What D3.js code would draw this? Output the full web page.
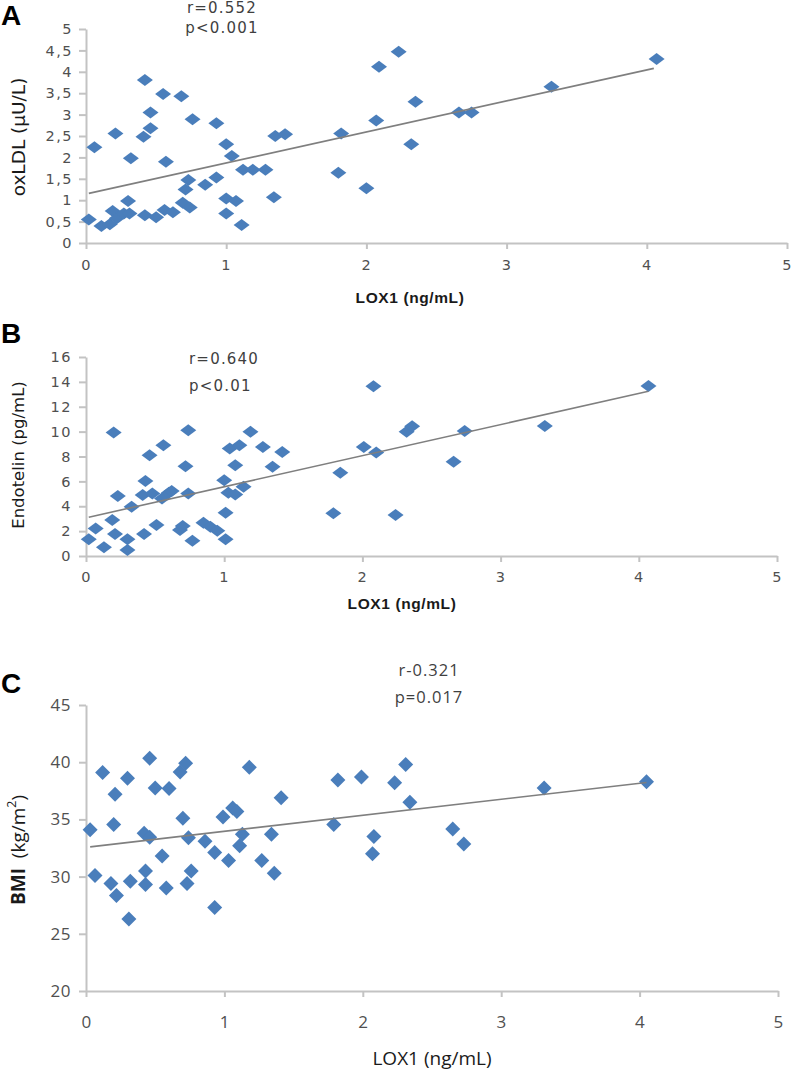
<!DOCTYPE html>
<html>
<head>
<meta charset="utf-8">
<script src="https://cdn.jsdelivr.net/npm/d3@7"></script>
<style>
  html, body { margin: 0; padding: 0; background: #fff; }
  svg { display: block; }
</style>
</head>
<body>
<svg id="chart" width="794" height="1074"></svg>
<script>
// ---------- DATA ----------
const lox1A = [0.02,0.06,0.11,0.17,0.19,0.21,0.22,0.27,0.30,0.32,0.31,0.42,0.41,0.46,0.46,0.42,0.50,0.55,0.57,0.56,0.62,0.68,0.69,0.71,0.73,0.74,0.76,0.85,0.93,0.93,1.00,1.00,1.00,1.04,1.07,1.11,1.12,1.19,1.28,1.35,1.34,1.42,1.82,1.80,2.00,2.07,2.09,2.23,2.35,2.32,2.66,2.75,3.32,4.07];
const oxldl = [0.55,2.24,0.40,0.44,0.75,2.56,0.58,0.69,0.98,1.98,0.69,3.81,2.48,2.68,3.05,0.65,0.60,3.48,1.90,0.77,0.72,3.43,0.94,1.25,1.47,0.83,2.89,1.36,2.80,1.53,0.69,2.31,1.04,2.03,0.98,0.42,1.71,1.71,1.71,2.50,1.07,2.54,2.56,1.64,1.28,2.86,4.12,4.47,3.30,2.31,3.05,3.05,3.65,4.30];

const lox1B = [0.02,0.07,0.13,0.20,0.19,0.23,0.21,0.30,0.30,0.33,0.42,0.46,0.43,0.41,0.48,0.51,0.56,0.55,0.60,0.62,0.68,0.70,0.72,0.74,0.74,0.77,0.85,0.90,0.95,1.00,1.01,1.01,1.04,1.03,1.08,1.08,1.11,1.14,1.19,1.28,1.35,1.42,1.79,1.84,2.01,2.08,2.10,2.24,2.32,2.36,2.66,2.74,3.32,4.07];
const endotelin = [1.34,2.22,0.70,9.93,2.89,4.82,1.77,1.34,0.48,3.96,1.77,8.11,6.04,4.90,5.03,2.49,8.91,4.63,5.08,5.22,2.09,2.41,7.22,10.11,5.03,1.23,2.67,2.35,2.03,6.10,3.48,1.34,8.64,5.08,4.95,7.30,8.91,5.56,9.98,8.77,7.17,8.37,3.43,6.69,8.77,13.64,8.32,3.29,9.98,10.43,7.57,10.06,10.46,13.67];

const lox1C = [0.03,0.065,0.12,0.18,0.21,0.20,0.22,0.30,0.31,0.32,0.42,0.46,0.43,0.43,0.46,0.50,0.55,0.60,0.58,0.70,0.68,0.72,0.74,0.73,0.76,0.86,0.93,0.93,0.99,1.03,1.06,1.09,1.11,1.13,1.18,1.27,1.34,1.36,1.41,1.79,1.82,1.99,2.08,2.07,2.23,2.31,2.34,2.65,2.73,3.31,4.05];
const bmi = [34.1,30.1,39.1,29.4,37.2,34.55,28.35,38.6,26.3,29.6,33.8,33.45,30.5,29.3,40.35,37.75,31.8,37.7,29.0,35.1,39.15,39.9,33.4,29.4,30.5,33.1,32.1,27.3,35.2,31.4,36.0,35.7,32.7,33.7,39.55,31.4,33.7,30.3,36.9,34.55,38.45,38.7,33.5,32.0,38.2,39.8,36.5,34.15,32.85,37.75,38.3];

// trend lines (endpoints)
const trendA = [[0.02, 1.16], [4.05, 4.08]];
const trendB = [[0.02, 3.12], [4.07, 13.24]];
const trendC = [[0.03, 32.6], [4.05, 38.23]];

// ticks
const xTicks = [0, 1, 2, 3, 4, 5];
const xTickLabels = ["0", "1", "2", "3", "4", "5"];
const yTicksA = [0, 0.5, 1, 1.5, 2, 2.5, 3, 3.5, 4, 4.5, 5];
const yTickLabelsA = ["0", "0,5", "1", "1,5", "2", "2,5", "3", "3,5", "4", "4,5", "5"];
const yTicksB = [0, 2, 4, 6, 8, 10, 12, 14, 16];
const yTickLabelsB = ["0", "2", "4", "6", "8", "10", "12", "14", "16"];
const yTicksC = [20, 25, 30, 35, 40, 45];
const yTickLabelsC = ["20", "25", "30", "35", "40", "45"];

// texts
const panelLetters = ["A", "B", "C"];
const statsA = ["r=0.552", "p<0.001"];
const statsB = ["r=0.640", "p<0.01"];
const statsC = ["r-0.321", "p=0.017"];
const xTitle = "LOX1 (ng/mL)";
const yTitleA = "oxLDL (μU/L)";
const yTitleB = "Endotelin (pg/mL)";

// ---------- DRAW ----------
const svg = d3.select("#chart");
const markColor = "#4a7ebb";
const axisColor = "#c3c3c3";
const tickText = "#505050";

const panels = [
  { letter: panelLetters[0], letterY: 25, xs: lox1A, ys: oxldl, trend: trendA,
    x: d3.scaleLinear().domain([0,5]).range([86,787]),
    y: d3.scaleLinear().domain([0,5]).range([243,29]),
    yTicks: yTicksA, yLabels: yTickLabelsA, dw: 16, dh: 12,
    tickFont: "DejaVu Sans", tickSize: 14.5, tickSpacing: 1.5, xLabelDy: 28, yLabelGap: 13,
    stats: statsA, statsX: 222, statsY: [13, 33], statsAnchor: "middle",
    statsFont: "DejaVu Sans", statsSize: 15, statsSpacing: 1.2,
    xTitleY: 303, xTitleX: 410, xTitleFont: "Liberation Sans", xTitleSize: 15.5, xTitleWeight: "bold",
    yTitleX: 18, yTitleY: 137, yTitleSize: 18.5 },
  { letter: panelLetters[1], letterY: 343, xs: lox1B, ys: endotelin, trend: trendB,
    x: d3.scaleLinear().domain([0,5]).range([86,777]),
    y: d3.scaleLinear().domain([0,16]).range([556,357]),
    yTicks: yTicksB, yLabels: yTickLabelsB, dw: 16, dh: 12,
    tickFont: "DejaVu Sans", tickSize: 14.5, tickSpacing: 1.5, xLabelDy: 27, yLabelGap: 14,
    stats: statsB, statsX: 189, statsY: [364, 391], statsAnchor: "start",
    statsFont: "DejaVu Sans", statsSize: 15, statsSpacing: 1.2,
    xTitleY: 609, xTitleX: 402, xTitleFont: "Liberation Sans", xTitleSize: 15.5, xTitleWeight: "bold",
    yTitleX: 18, yTitleY: 455, yTitleSize: 16.5 },
  { letter: panelLetters[2], letterY: 693, xs: lox1C, ys: bmi, trend: trendC,
    x: d3.scaleLinear().domain([0,5]).range([86,778]),
    y: d3.scaleLinear().domain([20,45]).range([991,705]),
    yTicks: yTicksC, yLabels: yTickLabelsC, dw: 15, dh: 15,
    tickFont: "Open Sans", tickSize: 17, tickSpacing: 0.5, xLabelDy: 38, yLabelGap: 15,
    stats: statsC, statsX: 429, statsY: [676, 703], statsAnchor: "middle",
    statsFont: "Open Sans", statsSize: 16.5, statsSpacing: 1,
    xTitleY: 1065, xTitleX: 432, xTitleFont: "Open Sans", xTitleSize: 19, xTitleWeight: "normal",
    yTitleX: 18, yTitleY: 850, yTitleSize: 19 }
];

panels.forEach((p, i) => {
  const g = svg.append("g");
  const x0 = p.x.range()[0];
  const yBase = p.y.range()[0];

  // y axis
  const yAxis = d3.axisLeft(p.y)
    .tickValues(p.yTicks)
    .tickFormat((d, k) => p.yLabels[k])
    .tickSizeInner(7).tickSizeOuter(0).tickPadding(p.yLabelGap - 7);
  const ya = g.append("g").attr("transform", `translate(${x0},0)`).call(yAxis);
  ya.select(".domain").attr("stroke", axisColor).attr("stroke-width", 2);
  ya.selectAll(".tick line").attr("stroke", axisColor).attr("stroke-width", 2);
  ya.selectAll(".tick text")
    .attr("fill", tickText).attr("font-family", p.tickFont)
    .attr("font-size", p.tickSize).attr("letter-spacing", p.tickSpacing);

  // x axis
  const xAxis = d3.axisBottom(p.x)
    .tickValues(xTicks)
    .tickFormat((d, k) => xTickLabels[k])
    .tickSizeInner(6).tickSizeOuter(0).tickPadding(p.xLabelDy - 6 - p.tickSize * 0.75);
  const xa = g.append("g").attr("transform", `translate(0,${yBase})`).call(xAxis);
  xa.select(".domain").attr("stroke", axisColor).attr("stroke-width", 2);
  xa.selectAll(".tick line").attr("stroke", axisColor).attr("stroke-width", 2);
  xa.selectAll(".tick text")
    .attr("fill", tickText).attr("font-family", p.tickFont)
    .attr("font-size", p.tickSize).attr("letter-spacing", p.tickSpacing);

  // points
  const pts = p.xs.map((v, k) => [v, p.ys[k]]);
  const w = p.dw / 2, h = p.dh / 2;
  g.append("g").selectAll("path").data(pts).join("path")
    .attr("d", `M0,${-h}L${w},0L0,${h}L${-w},0Z`)
    .attr("transform", d => `translate(${p.x(d[0])},${p.y(d[1])})`)
    .attr("fill", markColor);

  // trend line
  g.append("path")
    .datum(p.trend)
    .attr("d", d3.line().x(d => p.x(d[0])).y(d => p.y(d[1])))
    .attr("stroke", "#7f7f7f").attr("stroke-width", 1.6).attr("fill", "none");

  // stats text
  p.stats.forEach((t, k) => {
    g.append("text").text(t)
      .attr("x", p.statsX).attr("y", p.statsY[k])
      .attr("text-anchor", p.statsAnchor)
      .attr("font-family", p.statsFont).attr("font-size", p.statsSize)
      .attr("letter-spacing", p.statsSpacing)
      .attr("fill", "#3f3f3f");
  });

  // x title
  g.append("text").text(xTitle)
    .attr("x", p.xTitleX).attr("y", p.xTitleY)
    .attr("text-anchor", "middle")
    .attr("font-family", p.xTitleFont).attr("font-size", p.xTitleSize)
    .attr("font-weight", p.xTitleWeight).attr("letter-spacing", i < 2 ? 0.6 : 0)
    .attr("fill", "#1a1a1a");

  // y title
  const yt = g.append("text")
    .attr("transform", `translate(${p.yTitleX},${p.yTitleY}) rotate(-90)`)
    .attr("text-anchor", "middle").attr("dominant-baseline", "central")
    .attr("font-size", p.yTitleSize).attr("fill", "#1a1a1a");
  if (i === 0) {
    yt.attr("font-family", "DejaVu Sans").text(yTitleA);
  } else if (i === 1) {
    yt.attr("font-family", "DejaVu Sans").text(yTitleB);
  } else {
    yt.attr("font-family", "Open Sans");
    yt.append("tspan").attr("font-weight", "bold").text("BMI");
    yt.append("tspan").text("\u00A0 (kg/m");
    yt.append("tspan").attr("font-size", p.yTitleSize * 0.65).attr("dy", -7).text("2");
    yt.append("tspan").attr("dy", 7).text(")");
  }

  // panel letter
  svg.append("text").text(p.letter)
    .attr("x", 1).attr("y", p.letterY)
    .attr("font-family", "Liberation Sans").attr("font-weight", "bold")
    .attr("font-size", 28).attr("fill", "#000");
});
</script>
</body>
</html>
